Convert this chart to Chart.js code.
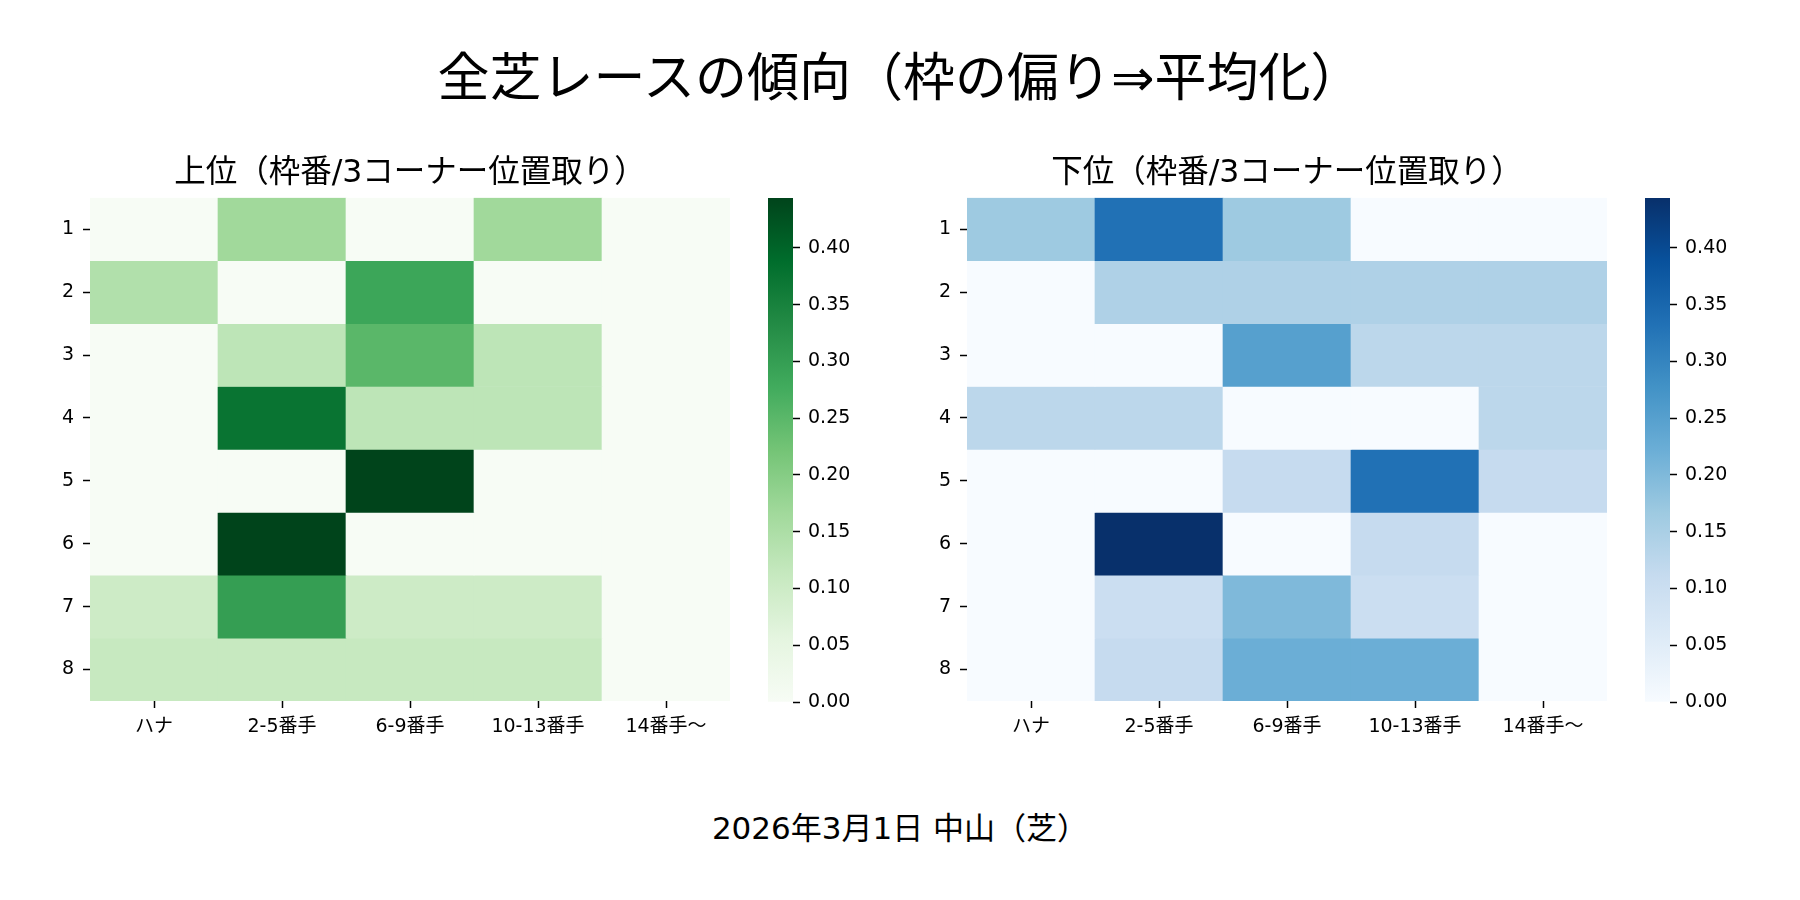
<!DOCTYPE html>
<html lang="ja">
<head>
<meta charset="utf-8">
<title>全芝レースの傾向</title>
<script src="https://cdn.jsdelivr.net/npm/chart.js@4.4.1/dist/chart.umd.min.js"></script>
<style>
  html, body { margin: 0; padding: 0; background: #fff; }
  #page {
    position: relative; width: 1800px; height: 900px; overflow: hidden;
    font-family: "DejaVu Sans", "Noto Sans CJK JP", sans-serif; color: #000;
  }
  .label { position: absolute; left: 0; width: 1800px; text-align: center; white-space: nowrap; }
  #suptitle { top: 52px; font-size: 52px; line-height: 52px; }
  #footer { top: 813px; font-size: 31px; line-height: 31px; }
  canvas { position: absolute; }
</style>
</head>
<body>
<div id="page">
  <div id="suptitle" class="label">全芝レースの傾向（枠の偏り⇒平均化）</div>
  <canvas id="heatTop" width="730" height="605" style="left:0px;top:155px"></canvas>
  <canvas id="cbarTop" width="105" height="534" style="left:768px;top:183px"></canvas>
  <canvas id="heatBottom" width="730" height="605" style="left:877px;top:155px"></canvas>
  <canvas id="cbarBottom" width="105" height="534" style="left:1645px;top:183px"></canvas>
  <div id="footer" class="label">2026年3月1日 中山（芝）</div>
</div>

<script>
// 行 = 枠番, 列 = 3コーナー位置取り
const rowLabels = ['1', '2', '3', '4', '5', '6', '7', '8'];
const colLabels = ['ハナ', '2-5番手', '6-9番手', '10-13番手', '14番手〜'];

// 上位
const topValues = [
    [0,     0.167, 0,     0.167, 0],
    [0.143, 0,     0.286, 0,     0],
    [0,     0.125, 0.25,  0.125, 0],
    [0,     0.375, 0.125, 0.125, 0],
    [0,     0,     0.444, 0,     0],
    [0,     0.444, 0,     0,     0],
    [0.1,   0.3,   0.1,   0.1,   0],
    [0.111, 0.111, 0.111, 0.111, 0]
];

// 下位
const bottomValues = [
    [0.167, 0.333, 0.167, 0,     0],
    [0,     0.143, 0.143, 0.143, 0.143],
    [0,     0,     0.25,  0.125, 0.125],
    [0.125, 0.125, 0,     0,     0.125],
    [0,     0,     0.111, 0.333, 0.111],
    [0,     0.444, 0,     0.111, 0],
    [0,     0.1,   0.2,   0.1,   0],
    [0,     0.111, 0.222, 0.222, 0]
];

const cbarTicks = [0, 0.05, 0.10, 0.15, 0.20, 0.25, 0.30, 0.35, 0.40];

const greens = ['#f7fcf5', '#e5f5e0', '#c7e9c0', '#a1d99b', '#74c476', '#41ab5d', '#238b45', '#006d2c', '#00441b'];
const blues  = ['#f7fbff', '#deebf7', '#c6dbef', '#9ecae1', '#6baed6', '#4292c6', '#2171b5', '#08519c', '#08306b'];

const FONT = '"DejaVu Sans", "Noto Sans CJK JP", sans-serif';
Chart.defaults.font.family = FONT;
Chart.defaults.color = '#000';

function hexToRgb(h) {
    return [1, 3, 5].map(i => parseInt(h.substr(i, 2), 16));
}

function colorFor(stops, t) {
    t = Math.min(Math.max(t, 0), 1);
    const pos = t * (stops.length - 1);
    const i = Math.min(Math.floor(pos), stops.length - 2);
    const f = pos - i;
    const a = hexToRgb(stops[i]);
    const b = hexToRgb(stops[i + 1]);
    const c = a.map((v, k) => Math.round(v + (b[k] - v) * f));
    return `rgb(${c[0]},${c[1]},${c[2]})`;
}

const tickGrid = {
    display: true,
    drawOnChartArea: false,
    drawTicks: true,
    offset: false,
    tickLength: 7,
    tickWidth: 1.5,
    tickColor: '#000'
};

function makeHeatmap(id, title, values, stops) {
    const vmax = Math.max(...values.flat());
    const datasets = rowLabels.map((r, i) => ({
        label: r,
        data: colLabels.map(() => [i + 0.5, i + 1.5]),
        backgroundColor: values[i].map(v => colorFor(stops, v / vmax)),
        borderWidth: 0,
        borderSkipped: false,
        barPercentage: 1,
        categoryPercentage: 1,
        grouped: false
    }));

    new Chart(document.getElementById(id), {
        type: 'bar',
        data: { labels: colLabels, datasets },
        options: {
            responsive: false,
            animation: false,
            layout: { padding: 0 },
            plugins: {
                legend: { display: false },
                tooltip: { enabled: false },
                title: {
                    display: true,
                    text: title,
                    fullSize: false,
                    font: { size: 31.5, weight: 'normal', family: FONT },
                    padding: { top: 0, bottom: 5 },
                    color: '#000'
                }
            },
            scales: {
                x: {
                    type: 'category',
                    offset: true,
                    grid: tickGrid,
                    border: { display: false },
                    ticks: { font: { size: 19 }, padding: 8, maxRotation: 0, autoSkip: false },
                    afterFit: axis => {
                        axis.height = 59;
                        axis.paddingLeft = 0;
                        axis.paddingRight = 0;
                    }
                },
                y: {
                    type: 'linear',
                    reverse: true,
                    min: 0.5,
                    max: rowLabels.length + 0.5,
                    grid: tickGrid,
                    border: { display: false },
                    afterBuildTicks: axis => {
                        axis.ticks = rowLabels.map((_, i) => ({ value: i + 1 }));
                    },
                    ticks: {
                        font: { size: 19 },
                        padding: 9,
                        callback: v => rowLabels[v - 1]
                    },
                    afterFit: axis => {
                        axis.width = 90;
                        axis.paddingTop = 0;
                        axis.paddingBottom = 0;
                    }
                }
            }
        }
    });
    return vmax;
}

function makeColorbar(id, vmax, stops) {
    new Chart(document.getElementById(id), {
        type: 'bar',
        data: {
            labels: [''],
            datasets: [{
                data: [[0, vmax]],
                backgroundColor: ctx => {
                    const area = ctx.chart.chartArea;
                    if (!area) return stops[0];
                    const g = ctx.chart.ctx.createLinearGradient(0, area.bottom, 0, area.top);
                    stops.forEach((c, i) => g.addColorStop(i / (stops.length - 1), c));
                    return g;
                },
                borderWidth: 0,
                borderSkipped: false,
                barPercentage: 1,
                categoryPercentage: 1
            }]
        },
        options: {
            responsive: false,
            animation: false,
            layout: { padding: { top: 15, bottom: 15, left: 0, right: 0 } },
            plugins: { legend: { display: false }, tooltip: { enabled: false } },
            scales: {
                x: { display: false },
                y: {
                    position: 'right',
                    min: 0,
                    max: vmax,
                    grid: tickGrid,
                    border: { display: false },
                    afterBuildTicks: axis => {
                        axis.ticks = cbarTicks.map(v => ({ value: v }));
                    },
                    ticks: {
                        font: { size: 19 },
                        padding: 8,
                        callback: v => v.toFixed(2)
                    },
                    afterFit: axis => {
                        axis.width = 80;
                        axis.paddingTop = 0;
                        axis.paddingBottom = 0;
                    }
                }
            }
        }
    });
}

const vmaxTop = makeHeatmap('heatTop', '上位（枠番/3コーナー位置取り）', topValues, greens);
makeColorbar('cbarTop', vmaxTop, greens);
const vmaxBottom = makeHeatmap('heatBottom', '下位（枠番/3コーナー位置取り）', bottomValues, blues);
makeColorbar('cbarBottom', vmaxBottom, blues);
</script>
</body>
</html>
